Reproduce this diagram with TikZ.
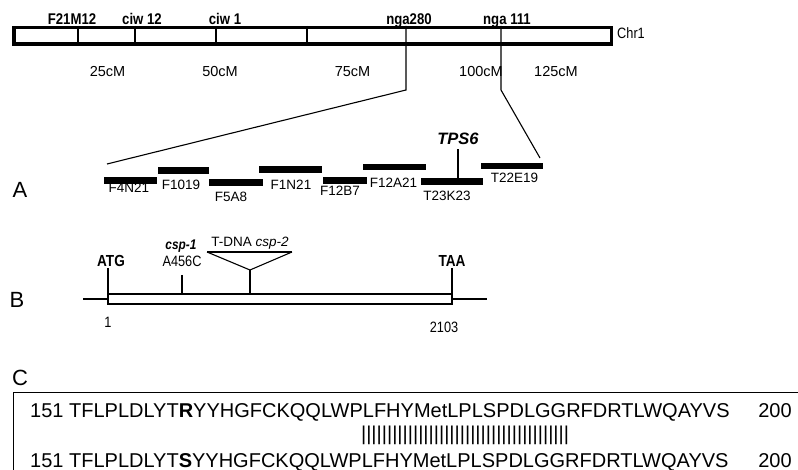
\documentclass[tikz,border=0pt]{standalone}
\usepackage{fontspec}
\setmainfont{Liberation Sans}
\newfontfamily\narrowfont[FakeStretch=0.85]{Liberation Sans}
\usepackage{tikz}
\usetikzlibrary{positioning, calc}
\tikzset{
    chrbar/.style={rectangle, draw=black, line width=3.5pt, fill=white,
                   minimum width=597.5pt, minimum height=16.5pt, inner sep=0pt},
    contig/.style={rectangle, fill=black, inner sep=0pt, minimum height=6.5pt},
    genebox/.style={rectangle, draw=black, line width=1.1pt, fill=white,
                    minimum width=344pt, minimum height=10pt, inner sep=0pt},
    mlabel/.style={inner sep=0pt, anchor=base, font=\narrowfont\bfseries\fontsize{15.5}{17}\selectfont},
    cmlabel/.style={inner sep=0pt, anchor=base, font=\fontsize{14.5}{16}\selectfont},
    clabel/.style={inner sep=0pt, anchor=base, font=\fontsize{13.5}{15}\selectfont},
    nlabel/.style={inner sep=0pt, anchor=base, font=\narrowfont\fontsize{15}{17}\selectfont},
    panel/.style={inner sep=0pt, anchor=base, font=\fontsize{22}{24}\selectfont},
    seq/.style={inner sep=0pt, anchor=base west, font=\fontsize{20}{22}\selectfont},
    tline/.style={line width=1.1pt, draw=black}
}

\begin{document}
\begin{tikzpicture}[x=1pt, y=-1pt]
\useasboundingbox (0,0) rectangle (798,470);

% ── Chromosome 1 ──────────────────────────────────────────────────────
\node[chrbar] at (312.5,36) (chr) {};
\node[nlabel, anchor=base west] at (617,39) (chrname) {Chr1};

\coordinate (m1) at (78,36);
\coordinate (m2) at (135,36);
\coordinate (m3) at (216,36);
\coordinate (m4) at (307,36);
\coordinate (m5) at (406,90);
\coordinate (m6) at (501,90);

\node[mlabel] at (72,24.5)  (f21m12) {F21M12};
\node[mlabel] at (142,24.5) (ciw12)  {ciw 12};
\node[mlabel] at (225,24.5) (ciw1)   {ciw 1};
\node[mlabel] at (409,24.5) (nga280) {nga280};
\node[mlabel] at (507,24.5) (nga111) {nga 111};

\node[cmlabel] at (107.5,77) (cm25)  {25cM};
\node[cmlabel] at (220,77)   (cm50)  {50cM};
\node[cmlabel] at (352.5,77) (cm75)  {75cM};
\node[cmlabel] at (481,77)   (cm100) {100cM};
\node[cmlabel] at (556,77)   (cm125) {125cM};

\draw[tline] (m1 |- chr.north) -- (m1 |- chr.south);
\draw[tline] (m2 |- chr.north) -- (m2 |- chr.south);
\draw[tline] (m3 |- chr.north) -- (m3 |- chr.south);
\draw[tline] (m4 |- chr.north) -- (m4 |- chr.south);

% ── Contigs (A) ───────────────────────────────────────────────────────
\node[panel] at (20,198) (pa) {A};

\node[contig, minimum width=53pt] at (130.5,180.3) (f4n21)  {};
\node[contig, minimum width=51pt] at (183.5,170.5) (f1019)  {};
\node[contig, minimum width=54pt] at (236,182.7)   (f5a8)   {};
\node[contig, minimum width=63pt] at (290.5,169.3) (f1n21)  {};
\node[contig, minimum width=44pt] at (345,180.3)   (f12b7)  {};
\node[contig, minimum width=63pt] at (394.5,167)   (f12a21) {};
\node[contig, minimum width=62pt] at (452,181.7)   (t23k23) {};
\node[contig, minimum width=62pt] at (512,166)     (t22e19) {};

\node[clabel] at (129,193)   (lf4n21)  {F4N21};
\node[clabel] at (181,190)   (lf1019)  {F1019};
\node[clabel] at (231,201.5) (lf5a8)   {F5A8};
\node[clabel] at (291,190)   (lf1n21)  {F1N21};
\node[clabel] at (340,195.5) (lf12b7)  {F12B7};
\node[clabel] at (393.5,188) (lf12a21) {F12A21};
\node[clabel] at (447,200.5) (lt23k23) {T23K23};
\node[clabel] at (514.5,183) (lt22e19) {T22E19};

\node[inner sep=0pt, anchor=base, font=\bfseries\itshape\fontsize{16.5}{18}\selectfont]
    at (458,145) (tps6) {TPS6};

\coordinate (zl) at (107,164);
\coordinate (zr) at (540,158);

\draw[tline] (m5 |- chr.north) -- (m5) -- (zl);
\draw[tline] (m6 |- chr.north) -- (m6) -- (zr);
\draw[tline] ([yshift=-4pt]tps6.south) -- (tps6.south |- t23k23.north);

% ── Gene model (B) ────────────────────────────────────────────────────
\node[panel] at (17,308) (pb) {B};

\node[genebox] at (280,299) (gene) {};
\coordinate (gl) at (83,299);
\coordinate (gr) at (487,299);
\draw[tline] (gl) -- (gene.west);
\draw[tline] (gene.east) -- (gr);

\node[mlabel, font=\narrowfont\bfseries\fontsize{16}{18}\selectfont] at (111,267) (atg) {ATG};
\node[mlabel, font=\narrowfont\bfseries\fontsize{16}{18}\selectfont] at (452,267) (taa) {TAA};
\node[nlabel] at (182,267) (a456c) {A456C};
\node[inner sep=0pt, anchor=base, font=\narrowfont\bfseries\itshape\fontsize{14}{16}\selectfont]
    at (181,250) (csp1) {csp-1};
\node[clabel] at (250,246.5) (tdna) {T-DNA \textit{csp-2}};
\node[nlabel] at (108,328) (start) {1};
\node[nlabel] at (444,333) (stop) {2103};

\coordinate (atgpos) at (108,268);
\coordinate (mutpos) at (182,275);
\coordinate (taapos) at (452,268);
\coordinate (tl) at (207,252);
\coordinate (tr) at (292,252);
\coordinate (tip) at (250,270);

\draw[tline] (atgpos) -- (atgpos |- gene.north);
\draw[tline] (mutpos) -- (mutpos |- gene.north);
\draw[tline] (taapos) -- (taapos |- gene.north);
\draw[tline] (tl) -- (tip) -- (tr);
\draw[line width=2pt] (tl) -- (tr);
\draw[tline] (tip) -- (tip |- gene.north);

% ── Alignment (C) ─────────────────────────────────────────────────────
\node[panel] at (20,385) (pc) {C};

\coordinate (boxbl) at (13,480);
\coordinate (boxtl) at (13,392);
\coordinate (boxtr) at (810,392);
\draw[line width=1pt] (boxbl) -- (boxtl) -- (boxtr);

\node[seq] at (30,417) (wt)
    {151 TFLPLDLYT{\bfseries R}YYHGFCKQQLWPLFHYMetLPLSPDLGGRFDRTLWQAYVS};
\node[seq] at (30,467) (mut)
    {151 TFLPLDLYT{\bfseries S}YYHGFCKQQLWPLFHYMetLPLSPDLGGRFDRTLWQAYVS};
\node[seq, anchor=base] at (775,417) (wtend)  {200};
\node[seq, anchor=base] at (775,467) (mutend) {200};
\node[inner sep=0pt, font=\fontsize{20}{22}\selectfont] at (465,435) (ident)
    {||||||||||||||||||||||||||||||||||||||||};
\end{tikzpicture}
\end{document}
